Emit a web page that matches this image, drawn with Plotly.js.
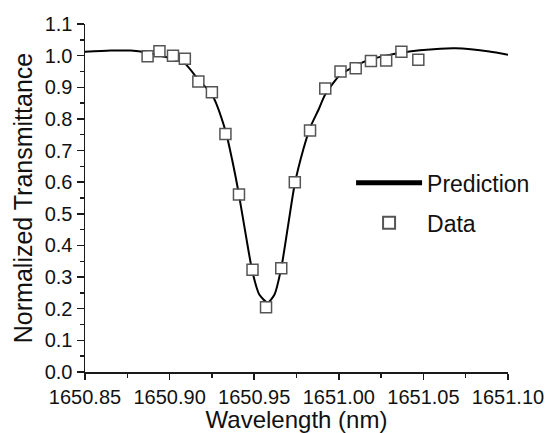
<!DOCTYPE html>
<html>
<head>
<meta charset="utf-8">
<script src="https://cdn.plot.ly/plotly-3.0.1.min.js"></script>
<style>html,body{margin:0;padding:0;background:#fff;}#chart{width:550px;height:433px;}</style>
</head>
<body>
<div id="chart"></div>
<script>
// Measured data (squares)
const dataWavelength = [1650.887, 1650.894, 1650.902, 1650.909, 1650.917, 1650.925, 1650.933, 1650.941,
  1650.949, 1650.957, 1650.966, 1650.974, 1650.983, 1650.992, 1651.001, 1651.010, 1651.019, 1651.028,
  1651.037, 1651.047];
const dataTransmittance = [0.998, 1.014, 1.000, 0.990, 0.918, 0.884, 0.752, 0.561,
  0.323, 0.205, 0.328, 0.600, 0.763, 0.896, 0.950, 0.960, 0.983, 0.985,
  1.012, 0.987];

// Prediction curve
const predWavelength = [1650.850, 1650.865, 1650.877, 1650.887, 1650.894, 1650.902, 1650.909, 1650.917,
  1650.925, 1650.933, 1650.937, 1650.941, 1650.945, 1650.949, 1650.953, 1650.958, 1650.962, 1650.966,
  1650.970, 1650.974, 1650.979, 1650.983, 1650.988, 1650.992, 1651.001, 1651.010, 1651.018, 1651.028,
  1651.037, 1651.048, 1651.060, 1651.069, 1651.078, 1651.089, 1651.100];
const predTransmittance = [1.012, 1.016, 1.016, 1.009, 1.000, 0.990, 0.975, 0.924,
  0.877, 0.763, 0.670, 0.560, 0.434, 0.316, 0.245, 0.220, 0.245, 0.329,
  0.462, 0.595, 0.703, 0.772, 0.829, 0.877, 0.940, 0.968, 0.987, 1.000,
  1.009, 1.017, 1.022, 1.023, 1.020, 1.013, 1.003];

const seriesNames = ["Prediction", "Data"];
const xTitle = "Wavelength (nm)";
const yTitle = "Normalized Transmittance";

const FONT = "Arial, 'Liberation Sans', sans-serif";
const AX = "#1a1a1a";

const traces = [
  {
    x: predWavelength, y: predTransmittance, name: seriesNames[0],
    type: "scatter", mode: "lines",
    line: {color: "#000", width: 2, shape: "spline", smoothing: 0.7},
    legendgroup: "a"
  },
  {
    x: dataWavelength, y: dataTransmittance, type: "scatter", mode: "markers",
    marker: {symbol: "square", size: 10, color: "#fff"}, showlegend: false, hoverinfo: "skip"
  },
  {
    x: dataWavelength, y: dataTransmittance, name: seriesNames[1],
    type: "scatter", mode: "markers",
    marker: {symbol: "square-open", size: 11, color: "#555", line: {color: "#555", width: 1.5}},
    legendgroup: "b"
  }
];

const axisCommon = {
  showgrid: false, zeroline: false, showline: true, linecolor: AX, linewidth: 1.5,
  ticks: "outside", tickcolor: AX, tickwidth: 1.5,
  tickfont: {family: FONT, size: 20, color: "#111"}
};

const layout = {
  width: 550, height: 433,
  margin: {l: 85, r: 42, t: 24, b: 61},
  paper_bgcolor: "#fff", plot_bgcolor: "#fff",
  font: {family: FONT, color: "#111"},
  showlegend: true,
  legend: {
    x: 0.629, y: 0.486, xanchor: "left", yanchor: "middle",
    font: {family: FONT, size: 23, color: "#111"},
    bgcolor: "rgba(0,0,0,0)", borderwidth: 0,
    tracegroupgap: 7, itemwidth: 66, itemsizing: "constant"
  },
  xaxis: Object.assign({}, axisCommon, {
    range: [1650.85, 1651.10], tick0: 1650.85, dtick: 0.05, tickformat: ".2f", ticklen: 6,
    minor: {ticks: "outside", ticklen: 4, tickwidth: 1.5, tickcolor: AX, dtick: 0.025, showgrid: false},
    title: {text: xTitle, font: {family: FONT, size: 24, color: "#111"}, standoff: 4}
  }),
  yaxis: Object.assign({}, axisCommon, {
    range: [0, 1.1], tick0: 0, dtick: 0.1, tickformat: ".1f", ticklen: 7,
    minor: {ticks: "outside", ticklen: 4, tickwidth: 1.5, tickcolor: AX, dtick: 0.05, showgrid: false},
    title: {text: yTitle, font: {family: FONT, size: 25, color: "#111"}, standoff: 5}
  })
};

Plotly.newPlot("chart", traces, layout, {staticPlot: true, displayModeBar: false});
</script>
</body>
</html>
